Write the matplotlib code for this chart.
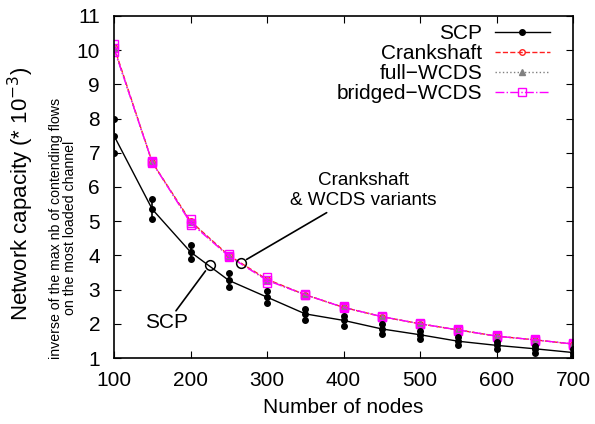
import matplotlib
matplotlib.use("Agg")
import matplotlib.pyplot as plt
import numpy as np

plt.rcParams['font.family'] = ['Liberation Sans', 'DejaVu Sans']

nodes = [100, 150, 200, 250, 300, 350, 400, 450, 500, 550, 600, 650, 700]
scp_mean = [7.5, 5.35, 4.1, 3.27, 2.78, 2.29, 2.10, 1.85, 1.68, 1.49, 1.37, 1.27, 1.16]
scp_low = [7.0, 5.05, 3.9, 3.07, 2.60, 2.12, 1.94, 1.71, 1.56, 1.39, 1.27, 1.16, 1.07]
scp_high = [8.0, 5.65, 4.3, 3.50, 2.95, 2.43, 2.24, 1.98, 1.80, 1.62, 1.48, 1.36, 1.27]
crank = [10.1, 6.72, 5.0, 4.0, 3.3, 2.85, 2.48, 2.21, 2.00, 1.82, 1.64, 1.53, 1.41]
full_wcds = [10.05, 6.72, 4.98, 3.98, 3.28, 2.85, 2.48, 2.21, 2.00, 1.82, 1.64, 1.53, 1.41]
bridged = [10.05, 6.72, 4.95, 3.98, 3.27, 2.85, 2.48, 2.21, 2.00, 1.82, 1.64, 1.53, 1.41]
bridged_low = [9.95, 6.70, 4.90, 3.94, 3.20, 2.83, 2.46, 2.19, 1.98, 1.80, 1.62, 1.51, 1.39]
bridged_high = [10.18, 6.75, 5.05, 4.05, 3.36, 2.88, 2.51, 2.23, 2.02, 1.84, 1.67, 1.55, 1.44]

# annotation anchor points (data coords)
scp_circle = (225, 3.71)
scp_line_end = (181, 2.38)
scp_text = (169, 2.03)
wcds_circle = (265.5, 3.78)
wcds_line_end = (378, 5.25)
wcds_text = (425.5, 5.89)

fig = plt.figure(figsize=(5.95, 4.24), dpi=100)
ax = fig.add_axes([114/595, 1 - 358/424, (573 - 114)/595, (358 - 16)/424])

x = np.array(nodes)
# SCP
ax.vlines(x, scp_low, scp_high, color='black', lw=1.2, zorder=3)
ax.plot(x, scp_low, 'o', color='black', ms=4, zorder=3)
ax.plot(x, scp_high, 'o', color='black', ms=4, zorder=3)
l1, = ax.plot(x, scp_mean, '-o', color='black', lw=1, ms=4, label='SCP', zorder=3)
# Crankshaft
l2, = ax.plot(x, crank, '--o', color='#ff2020', lw=1, ms=4, mfc='none', label='Crankshaft', zorder=2)
# full-WCDS
l3, = ax.plot(x, full_wcds, ':^', color='#808080', lw=1, ms=4, label='full\u2212WCDS', zorder=2)
# bridged
ax.vlines(x, bridged_low, bridged_high, color='magenta', lw=1, zorder=2)
ax.plot(x, bridged_low, 's', color='magenta', ms=6, mfc='none', zorder=2)
ax.plot(x, bridged_high, 's', color='magenta', ms=6, mfc='none', zorder=2)
l4, = ax.plot(x, bridged, '-.s', color='magenta', lw=1, ms=6, mfc='none', label='bridged\u2212WCDS', zorder=2)

ax.set_xlim(100, 700)
ax.set_ylim(1, 11)
ax.set_xticks(range(100, 701, 100))
ax.set_yticks(range(1, 12))
ax.tick_params(direction='in', top=True, right=True, labelsize=15, length=5)
ax.tick_params(axis='x', pad=9)
ax.tick_params(axis='y', pad=10)
for s in ax.spines.values():
    s.set_linewidth(1.2)

ax.set_xlabel('Number of nodes', fontsize=15, labelpad=6)

leg = ax.legend(handles=[l1, l2, l3, l4], loc='upper right', frameon=False,
                markerfirst=False, fontsize=15, handlelength=2.65,
                labelspacing=0.05, borderaxespad=0.8, borderpad=0.3,
                handletextpad=0.6, bbox_to_anchor=(1, 1 + 15/342))
for t in leg.get_texts():
    t.set_ha('right')

# annotations
for c in (scp_circle, wcds_circle):
    ax.plot([c[0]], [c[1]], 'o', ms=7, mfc='none', mec='black', mew=1.1, zorder=5)
ax.annotate('', xy=scp_line_end, xytext=scp_circle,
            arrowprops=dict(arrowstyle='-', color='black', lw=1.2, shrinkA=5, shrinkB=0))
ax.annotate('', xy=wcds_line_end, xytext=wcds_circle,
            arrowprops=dict(arrowstyle='-', color='black', lw=1.2, shrinkA=5, shrinkB=0))
ax.text(scp_text[0], scp_text[1], 'SCP', fontsize=15, ha='center', va='center')
ax.text(wcds_text[0], wcds_text[1], 'Crankshaft\n& WCDS variants', fontsize=13.6,
        ha='center', va='center', linespacing=1.2)

fig.text(21/595, 1 - 194/424, 'Network capacity (* 10$^{-3}$)', rotation=90,
         fontsize=16, ha='center', va='center')
fig.text(63/595, 1 - 228/424, 'inverse of the max nb of contending flows\non the most loaded channel',
         rotation=90, fontsize=10.2, ha='center', va='center', linespacing=1.0)

fig.savefig('out.png', dpi=100)
